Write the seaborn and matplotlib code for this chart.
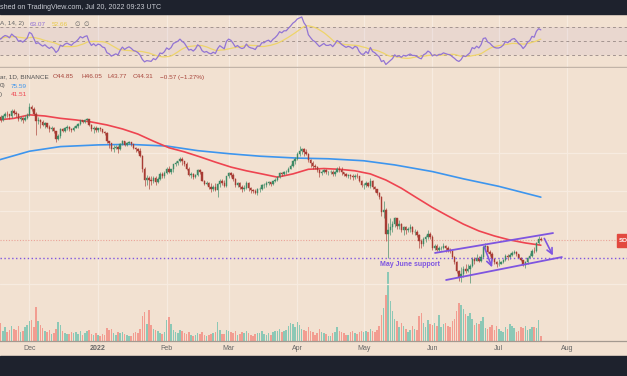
import numpy as np
import pandas as pd
import matplotlib
matplotlib.use("Agg")
import matplotlib.pyplot as plt
from matplotlib.patches import Rectangle
import seaborn as sns

# daily candles, Nov 17 2021 -> Jul 20 2022
start_date = "2021-11-17"
first_open = 214

close_nov = [205, 199, 208, 214, 212, 207, 222, 216, 212, 200, 202, 197, 203, 210]
close_dec = [232, 228, 214, 196, 199, 192, 186, 190, 182, 176, 180, 172, 157, 162, 176, 172,
             178, 181, 177, 174, 180, 183, 189, 197, 194, 198, 200, 186, 176, 180, 174]
close_jan = [178, 176, 170, 168, 152, 148, 138, 140, 142, 138, 146, 152, 145, 148, 150, 146,
             140, 138, 134, 126, 108, 94, 96, 94, 92, 96, 91, 95, 101, 99, 102]
close_feb = [108, 104, 107, 114, 116, 118, 122, 118, 115, 108, 100, 101, 97, 100, 106, 103,
             93, 89, 90, 86, 84, 86, 83, 89, 93, 90, 87, 98]
close_mar = [102, 100, 95, 88, 90, 86, 84, 85, 90, 85, 83, 82, 80, 84, 84, 88, 88, 90, 91, 89,
             92, 94, 97, 102, 101, 104, 104, 108, 112, 118, 122]
close_apr = [130, 134, 138, 133, 130, 120, 116, 112, 110, 106, 102, 104, 106, 103, 103, 104,
             101, 104, 108, 106, 103, 101, 99, 100, 99, 97, 99, 98, 92, 88]
close_may = [88, 90, 87, 92, 86, 84, 80, 76, 63, 64, 48, 50, 52, 54, 58, 53, 54, 50, 52, 50,
             51, 52, 49, 49, 47, 44, 42, 45, 46, 48, 46]
close_jun = [40, 41, 39, 40, 40, 41, 40, 39, 38.5, 36, 33.5, 30, 28, 29, 31, 30, 31, 32, 35, 34,
             35.5, 34, 36, 40.5, 41, 38, 37, 35, 33.5, 33]
close_jul = [33, 33.5, 34.5, 36.5, 35.8, 36.8, 37.8, 38.2, 37, 35.5, 34.5, 32.5, 33.6, 35.5,
             36.3, 38.8, 38.4, 42.5, 44.85, 44.31]

high_nov = [218, 210, 210, 218, 220, 214, 228, 226, 222, 215, 208, 205, 210, 215]
high_dec = [244, 238, 232, 218, 205, 201, 198, 193, 191, 186, 183, 181, 173, 166, 178, 180,
            181, 186, 184, 180, 183, 186, 191, 199, 198, 200, 204, 201, 188, 183, 183]
high_jan = [180, 181, 177, 172, 170, 152, 149, 144, 145, 143, 148, 155, 153, 150, 152, 151,
            147, 142, 140, 140, 128, 110, 100, 98, 99, 99, 98, 97, 103, 104, 105]
high_feb = [110, 111, 108, 115, 119, 119, 124, 124, 118, 117, 110, 103, 102, 101, 108, 107,
            104, 94, 93, 91, 90, 88, 90, 90, 95, 95, 94, 99]
high_mar = [104, 104, 102, 96, 91, 91, 88, 88, 92, 91, 86, 84, 84, 85, 86, 89, 90, 92, 93, 91,
            93, 96, 99, 104, 103, 105, 106, 110, 115, 120, 124]
high_apr = [132, 143, 140, 139, 137, 131, 122, 118, 115, 112, 107, 106, 108, 108, 105, 106,
            106, 105, 110, 111, 110, 104, 102, 101, 101, 101, 101, 102, 99, 94]
high_may = [90, 92, 91, 96, 94, 87, 84, 81, 77, 72, 66, 55, 58, 56, 59, 58, 57, 55, 53, 53,
            52, 54, 53, 51, 50, 48, 45, 46, 47, 50, 49]
high_jun = [47, 42, 42, 41, 41, 42.5, 41.5, 41, 40, 38.6, 36.5, 34, 30.5, 31.5, 32, 33, 33, 33,
            36, 36, 37, 36.5, 37, 41, 42.5, 41, 39, 38, 35.5, 34]
high_jul = [34.8, 34.2, 35, 37, 37, 37.5, 38.5, 39.3, 38.6, 37.3, 35.7, 34.6, 34.2, 36, 37.5,
            39.5, 40.8, 43, 46.5, 46.05]

low_nov = [201, 194, 196, 204, 205, 200, 204, 210, 205, 196, 195, 190, 195, 200]
low_dec = [207, 222, 210, 165, 188, 180, 184, 180, 180, 170, 173, 168, 150, 154, 158, 170,
           170, 175, 173, 171, 172, 178, 180, 187, 190, 191, 195, 184, 172, 168, 170]
low_jan = [170, 172, 168, 164, 149, 140, 135, 133, 137, 131, 136, 145, 143, 143, 146, 143,
           137, 133, 131, 124, 104, 87, 88, 84, 88, 90, 88, 90, 94, 96, 96]
low_feb = [101, 102, 101, 104, 112, 113, 117, 113, 112, 106, 98, 96, 95, 96, 98, 101, 92, 88,
           88, 84, 81, 82, 82, 76, 86, 88, 86, 86]
low_mar = [96, 97, 93, 86, 86, 84, 81, 82, 84, 82, 80, 80, 79, 78, 81, 83, 85, 86, 88, 87,
           88, 91, 93, 96, 98, 100, 101, 103, 107, 110, 115]
low_apr = [120, 127, 130, 126, 128, 117, 110, 108, 108, 104, 97, 100, 102, 101, 100, 101, 99,
           98, 103, 103, 100, 98, 97, 96, 95, 94, 95, 96, 91, 86]
low_may = [84, 86, 86, 85, 84, 81, 78, 74, 60, 58, 44, 35.5, 47, 49, 52, 51, 51, 49, 47, 48,
           49, 49, 48, 47, 46, 40, 40, 41, 43, 45, 45]
low_jun = [39, 39, 38.5, 38.8, 39, 39.5, 38, 38.2, 37.5, 35.6, 33, 29.5, 26.5, 26.2, 28, 29.5,
           29.8, 26.0, 31.5, 33, 34, 33.5, 33.8, 35.5, 39.5, 37.5, 36.5, 34.6, 33, 31.5]
low_jul = [32, 32.7, 33.2, 34, 34.6, 35, 36.3, 37.3, 36.4, 35.2, 34, 32.2, 31.2, 33, 35.2,
           35.8, 37.8, 38, 42, 43.77]

# volume (millions)
vol_nov = [22, 18, 10, 14, 9, 11, 15, 12, 11, 15, 9, 10, 14, 16]
vol_dec = [20, 21, 14, 34, 20, 16, 13, 10, 9, 11, 7, 8, 12, 19, 16, 10, 8, 7, 7, 9, 8, 9, 7,
           10, 6, 8, 10, 11, 7, 6, 8]
vol_jan = [6, 5, 7, 6, 13, 11, 12, 8, 6, 9, 8, 9, 7, 6, 5, 5, 8, 9, 8, 12, 25, 29, 17, 31, 16,
           12, 11, 10, 8, 7, 9]
vol_feb = [21, 24, 17, 11, 9, 8, 11, 10, 8, 7, 9, 6, 5, 6, 8, 7, 9, 6, 5, 6, 7, 8, 9, 19, 11,
           7, 7, 11]
vol_mar = [10, 9, 8, 10, 6, 7, 9, 8, 10, 8, 6, 5, 7, 8, 8, 10, 7, 6, 8, 6, 9, 10, 10, 12, 9,
           10, 11, 15, 18, 17, 14]
vol_apr = [19, 16, 12, 11, 10, 14, 10, 9, 6, 8, 12, 9, 8, 7, 5, 5, 8, 9, 14, 10, 9, 8, 6, 6,
           9, 10, 8, 7, 9, 10]
vol_may = [9, 10, 9, 12, 10, 9, 11, 15, 26, 33, 46, 69, 40, 30, 22, 20, 14, 18, 15, 12, 9, 11,
           15, 12, 11, 25, 28, 18, 14, 21, 17]
vol_jun = [16, 18, 15, 26, 14, 17, 18, 15, 14, 20, 22, 30, 38, 36, 32, 27, 25, 28, 22, 16, 18,
           17, 20, 24, 13, 12, 14, 16, 11, 15]
vol_jul = [12, 10, 9, 14, 12, 17, 15, 13, 9, 10, 14, 13, 15, 11, 12, 14, 14, 13, 21, 5]

# moving averages as shown on the chart (MA 50 red, MA 200 blue)
ma50_dates = ["2021-11-17", "2021-11-24", "2021-12-01", "2021-12-08", "2021-12-15", "2021-12-22",
              "2021-12-29", "2022-01-05", "2022-01-12", "2022-01-19", "2022-01-26", "2022-02-02",
              "2022-02-09", "2022-02-16", "2022-02-23", "2022-03-02", "2022-03-09", "2022-03-16",
              "2022-03-23", "2022-03-30", "2022-04-06", "2022-04-13", "2022-04-20", "2022-04-27",
              "2022-05-04", "2022-05-11", "2022-05-18", "2022-05-25", "2022-06-01", "2022-06-08",
              "2022-06-15", "2022-06-22", "2022-06-29", "2022-07-06", "2022-07-13", "2022-07-20"]
ma50_values = [198, 202, 211, 208, 202, 198, 193, 186, 177, 166, 152, 140, 133, 125, 117, 110,
               105, 101, 97, 101, 107, 108, 107, 105, 101, 93.6, 84.5, 74.9, 66.5, 59.8, 54.0,
               49.6, 46.6, 44.3, 42.7, 41.51]
ma200_dates = ["2021-11-17", "2021-12-01", "2021-12-15", "2022-01-01", "2022-01-15", "2022-02-01",
               "2022-02-15", "2022-03-01", "2022-03-15", "2022-04-01", "2022-04-15", "2022-05-01",
               "2022-05-15", "2022-06-01", "2022-06-15", "2022-07-01", "2022-07-20"]
ma200_values = [120, 134, 142, 145, 146, 143, 135, 130, 126, 123, 122, 119, 113, 104, 95, 86.5,
                75.59]

# drawings
channel_upper = [("2022-06-02 05:00", 37.7), ("2022-07-25 12:00", 48.3)]
channel_lower = [("2022-06-07 05:00", 26.9), ("2022-07-29 12:00", 35.8)]
arrow_one = [("2022-06-23 22:00", 42.2), ("2022-06-28 10:00", 30.5)]
arrow_two = [("2022-07-21 00:00", 46.6), ("2022-07-26 00:00", 35.4)]
support_price = 35.4
last_price = 44.31
grid_prices = [25.6, 63.6, 81.7, 131]

month_ticks = ["2021-12-01", "2022-01-01", "2022-02-01", "2022-03-01", "2022-04-01",
               "2022-05-01", "2022-06-01", "2022-07-01", "2022-08-01"]
month_labels = ["Dec", "2022", "Feb", "Mar", "Apr", "May", "Jun", "Jul", "Aug"]

closes = close_nov + close_dec + close_jan + close_feb + close_mar + close_apr + close_may + close_jun + close_jul
highs = high_nov + high_dec + high_jan + high_feb + high_mar + high_apr + high_may + high_jun + high_jul
lows = low_nov + low_dec + low_jan + low_feb + low_mar + low_apr + low_may + low_jun + low_jul
volume = vol_nov + vol_dec + vol_jan + vol_feb + vol_mar + vol_apr + vol_may + vol_jun + vol_jul

df = pd.DataFrame({"date": pd.date_range(start_date, periods=len(closes), freq="D"),
                   "close": closes, "high": highs, "low": lows, "volume": volume})
df["open"] = df["close"].shift(1).fillna(first_open)
df["high"] = df[["high", "open", "close"]].max(axis=1)
df["low"] = df[["low", "open", "close"]].min(axis=1)
df["up"] = df["close"] >= df["open"]

# RSI 14 (Wilder), state at left edge of the visible window
avg_gain, avg_loss = 6.0, 4.2
rsi = []
for ch in (df["close"] - df["open"]):
    avg_gain = (avg_gain * 13 + max(ch, 0)) / 14
    avg_loss = (avg_loss * 13 + max(-ch, 0)) / 14
    rsi.append(100 - 100 / (1 + avg_gain / avg_loss))
df["rsi"] = rsi
df["rsi_ma"] = df["rsi"].rolling(14, min_periods=1).mean()

ma50 = pd.DataFrame({"date": pd.to_datetime(ma50_dates), "ma": ma50_values})
ma200 = pd.DataFrame({"date": pd.to_datetime(ma200_dates), "ma": ma200_values})

# colours
BG = "#f2e1d1"
DARK = "#1e222d"
UP = "#3d8a66"
DOWN = "#a83b33"
VOL_UP = "#8cc8b6"
VOL_DOWN = "#f29d91"
PURPLE = "#7e55e0"
RSI_COL = "#9274d4"
RSI_MA_COL = "#eed46a"
GRID = "#f7ebe0"

sns.set_theme(style="white")
plt.rcParams["font.family"] = ["Liberation Sans", "DejaVu Sans"]

W, H = 627, 376
fig = plt.figure(figsize=(W / 100, H / 100), dpi=100, facecolor=BG)


def fx(p):
    return p / W


def fy(p):
    return 1 - p / H


ax_rsi = fig.add_axes([0, fy(67), 1, 52 / H], facecolor=BG)
ax = fig.add_axes([0, fy(341), 1, 273 / H], sharex=ax_rsi)
ax_v = ax.twinx()
ax.set_zorder(ax_v.get_zorder() + 1)
ax.patch.set_visible(False)
ax_v.set_facecolor(BG)
ax_v.patch.set_visible(True)

x_left = pd.Timestamp(start_date) + pd.Timedelta(days=0.72)
x_right = x_left + pd.Timedelta(days=W / 2.214)

# month grid
for m in month_ticks:
    for a in (ax_rsi, ax_v):
        a.axvline(pd.Timestamp(m), color=GRID, lw=0.9, zorder=0)
for gp in grid_prices:
    ax.axhline(gp, color=GRID, lw=0.9, zorder=0)

# volume
vol_colors = np.where(df["up"], VOL_UP, VOL_DOWN)
ax_v.bar(df["date"], df["volume"], width=0.7, color=vol_colors, linewidth=0, zorder=1)
ax_v.set_ylim(0, 273)
ax_v.set_yticks([])

# candles
cand_colors = np.where(df["up"], UP, DOWN)
ax.vlines(df["date"], df["low"], df["high"], colors=cand_colors, lw=0.6, alpha=0.75, zorder=3)
body_lo = df[["open", "close"]].min(axis=1)
body_h = (df["close"] - df["open"]).abs()
ax.bar(df["date"], body_h, bottom=body_lo, width=0.62, color=cand_colors,
       edgecolor=cand_colors, linewidth=0.3, zorder=4)

# moving averages
sns.lineplot(data=ma200, x="date", y="ma", ax=ax, color="#3d95ee", lw=1.2, zorder=2)
sns.lineplot(data=ma50, x="date", y="ma", ax=ax, color="#ee4450", lw=1.2, zorder=2)

# price line and support
ax.axhline(last_price, color="#eaa398", lw=0.8, ls=(0, (1, 1.5)), zorder=1)
ax.axhline(support_price, color=PURPLE, lw=1.0, ls=(0, (1, 1.8)), zorder=5)

# channel and arrows
for seg in (channel_upper, channel_lower):
    ax.plot([pd.Timestamp(seg[0][0]), pd.Timestamp(seg[1][0])], [seg[0][1], seg[1][1]],
            color=PURPLE, lw=1.3, zorder=6)
for seg in (arrow_one, arrow_two):
    ax.annotate("", xy=(pd.Timestamp(seg[1][0]), seg[1][1]),
                xytext=(pd.Timestamp(seg[0][0]), seg[0][1]),
                arrowprops=dict(arrowstyle="->", color=PURPLE, lw=1.2, mutation_scale=10),
                zorder=6)

ax.set_yscale("log")
ax.set_ylim(12.57, 378.4)
ax.set_xlim(x_left, x_right)
ax.set_yticks([])
ax.set_yticks([], minor=True)
ax.set_ylabel("")
ax.set_xlabel("")
ax.set_xticks(pd.to_datetime(month_ticks))
ax.set_xticklabels(month_labels)
ax.tick_params(axis="x", length=0, pad=3.0, labelsize=5.0, labelcolor="#666666")
for t in ax.get_xticklabels():
    if t.get_text() == "2022":
        t.set_fontweight("bold")
for s in ("top", "left", "right"):
    ax.spines[s].set_visible(False)
    ax_v.spines[s].set_visible(False)
ax.spines["bottom"].set_color("#a39990")
ax.spines["bottom"].set_linewidth(0.9)
ax_v.spines["bottom"].set_visible(False)

# RSI panel
ax_rsi.axhspan(30, 70, color="#7e57c2", alpha=0.07, lw=0, zorder=0)
for lvl in (70, 50, 30):
    ax_rsi.axhline(lvl, color="#a39490", lw=0.7, ls=(0, (3, 3)), zorder=1)
sns.lineplot(data=df, x="date", y="rsi_ma", ax=ax_rsi, color=RSI_MA_COL, lw=0.9, zorder=2)
sns.lineplot(data=df, x="date", y="rsi", ax=ax_rsi, color=RSI_COL, lw=0.9, zorder=3)
ax_rsi.set_ylim(13, 87)
ax_rsi.set_yticks([])
ax_rsi.set_xlabel("")
ax_rsi.set_ylabel("")
ax_rsi.tick_params(axis="x", length=0, labelbottom=False)
for s in ("top", "left", "right"):
    ax_rsi.spines[s].set_visible(False)
ax_rsi.spines["bottom"].set_color("#c2b4a8")
ax_rsi.spines["bottom"].set_linewidth(1.0)
ax_rsi.set_xlim(x_left, x_right)

# dark frame bars
fig.add_artist(Rectangle((0, fy(14)), 1, 14 / H, transform=fig.transFigure, color=DARK, zorder=10))
fig.add_artist(Rectangle((0, 0), 1, 20 / H, transform=fig.transFigure, color=DARK, zorder=10))

# texts
fig.text(fx(0), fy(7.5), "shed on TradingView.com, Jul 20, 2022 09:23 UTC", color="#c9ccd4",
         fontsize=5.1, va="center", ha="left", zorder=11)

fs = 4.6
fig.text(fx(0), fy(24), "A, 14, 2)", color="#666666", fontsize=fs, va="center")
fig.text(fx(30), fy(24), "63.07", color="#8f6fd6", fontsize=fs, va="center")
fig.text(fx(52), fy(24), "52.66", color="#e8c94a", fontsize=fs, va="center")
fig.text(fx(75), fy(24), "\u2205", color="#666666", fontsize=fs, va="center",
         family=["DejaVu Sans"])
fig.text(fx(84), fy(24), "\u2205", color="#666666", fontsize=fs, va="center",
         family=["DejaVu Sans"])

fig.text(fx(0), fy(77), "ar, 1D, BINANCE", color="#555555", fontsize=fs, va="center")
for xpos, txt in [(53, "O44.85"), (81, "H46.05"), (108, "L43.77"), (133, "C44.31"),
                  (160, "\u22120.57 (\u22121.27%)")]:
    fig.text(fx(xpos), fy(77), txt, color="#a8463d", fontsize=fs, va="center")
fig.text(fx(0), fy(86), "0)", color="#555555", fontsize=fs, va="center")
fig.text(fx(11), fy(86), "75.59", color="#3d95ee", fontsize=fs, va="center")
fig.text(fx(0), fy(94.5), ")", color="#555555", fontsize=fs, va="center")
fig.text(fx(11), fy(94.5), "41.51", color="#ee4450", fontsize=fs, va="center")

fig.text(fx(410), fy(264), "May June support", color=PURPLE, fontsize=5.0,
         fontweight="bold", ha="center", va="center")

fig.add_artist(Rectangle((fx(617), fy(246.5)), 12 / W, 13 / H, transform=fig.transFigure,
                         color="#e2493f", zorder=10))
fig.text(fx(618.5), fy(240), "SO", color="white", fontsize=4.5, va="center",
         fontweight="bold", zorder=11)

fig.savefig("out.png", dpi=100, facecolor=BG)
